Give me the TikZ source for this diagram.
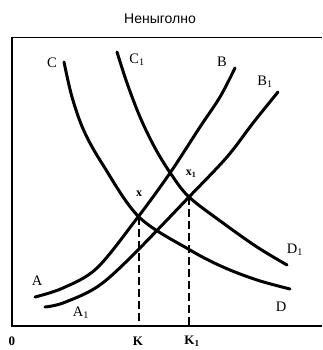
\documentclass[tikz,border=0pt]{standalone}
\usepackage{fontspec}
\setmainfont{Liberation Serif}
\newfontfamily\titlefont{Liberation Sans}
\begin{document}
\begin{tikzpicture}[x=1pt,y=-1pt,
  curve/.style={line width=3pt, line cap=round, line join=round},
  axisline/.style={line width=1.8pt},
  guide/.style={line width=1.2pt, dash pattern=on 8pt off 4pt},
  lab/.style={font=\fontsize{14.5}{14.5}\selectfont, inner sep=0pt},
  ptlab/.style={font=\bfseries\fontsize{12}{12}\selectfont, inner sep=0pt},
  axlab/.style={font=\bfseries\fontsize{13}{13}\selectfont, inner sep=0pt}]
\useasboundingbox (0,0) rectangle (322,350);
\node[font=\titlefont\fontsize{14}{16}\selectfont] (title) at (160,19) {Неныголно};
% frame and axes
\coordinate (tl) at (12,37);
\coordinate (tr) at (322,37);
\coordinate (o) at (12,326);
\coordinate (br) at (322,326);
\draw[line width=0.8pt] (tl) -- (tr);
\draw[axisline] (tl) -- (o) -- (br);
% curves
\draw[curve] plot[smooth, tension=0.55] coordinates {(64,62) (72,97) (84,131) (103,165) (139,217) (190,250) (223,267) (257,280) (290,289)};
\draw[curve] plot[smooth, tension=0.55] coordinates {(117,52) (127,83) (140,117) (155,148) (171,174) (189,197) (223,223) (257,247) (287,265)};
\draw[curve] plot[smooth, tension=0.55] coordinates {(35,297) (63,288) (97,268) (138,217) (170,173) (200,127) (220,97) (235,68)};
\draw[curve] plot[smooth, tension=0.55] coordinates {(45,307) (63,303) (97,287) (130,258) (189,197) (227,157) (253,123) (278,92)};
% equilibrium points and guides
\coordinate (x) at (139,217);
\coordinate (x1) at (189,197);
\coordinate (k) at (139,326);
\coordinate (k1) at (189,326);
\draw[guide] (x) -- (k);
\draw[guide] (x1) -- (k1);
% labels
\node[lab] (lC) at (52,63) {C};
\node[lab] (lC1) at (137,60) {C\textsubscript{1}};
\node[lab] (lB) at (222,62) {B};
\node[lab] (lB1) at (265,82) {B\textsubscript{1}};
\node[lab] (lA) at (37,281) {A};
\node[lab] (lA1) at (81,313) {A\textsubscript{1}};
\node[lab] (lD1) at (295,250) {D\textsubscript{1}};
\node[lab] (lD) at (281,307) {D};
\node[ptlab] (lx) at (139,194) {x};
\node[ptlab] (lx1) at (191,174) {x\textsubscript{1}};
\node[axlab] (l0) at (12,341) {0};
\node[axlab] (lK) at (138,341) {K};
\node[axlab] (lK1) at (192,341) {K\textsubscript{1}};
\end{tikzpicture}
\end{document}
